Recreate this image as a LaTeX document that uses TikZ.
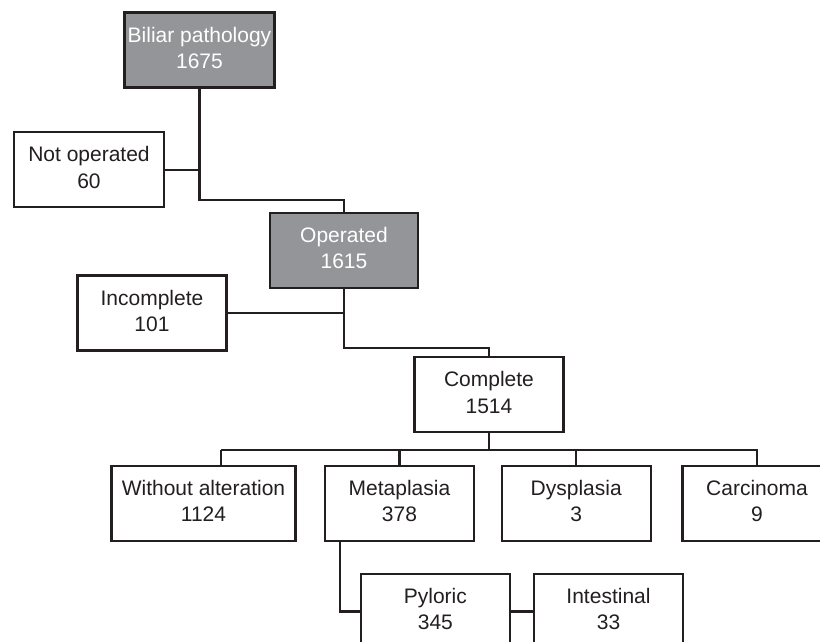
\documentclass[tikz,border=0pt]{standalone}
\usepackage{fontspec}
\setmainfont{Liberation Sans}
\definecolor{boxgray}{HTML}{939598}
\definecolor{linec}{HTML}{231F20}
\newcommand{\twol}[2]{\raisebox{2.5pt}{\begin{tabular}{@{}c@{}}#1\\#2\end{tabular}}}
\begin{document}
\begin{tikzpicture}[x=1pt,y=-1pt,
  box/.style={draw=linec, line width=2.2pt, fill=white, rectangle, minimum width=149pt, minimum height=75pt,
    inner sep=0pt, text=linec, font=\fontsize{21}{26.3}\selectfont},
  graybox/.style={box, fill=boxgray, text=white},
  conn/.style={draw=linec, line width=2.2pt}]
\useasboundingbox (0,0) rectangle (820,642);
\clip (0,0) rectangle (820,642);
\node[graybox, minimum width=150pt] (bil) at (199.5,50) {\twol{Biliar pathology}{1675}};
\node[box, minimum width=150pt] (notop) at (89,169.8) {\twol{Not operated}{60}};
\node[graybox, minimum width=148pt, minimum height=74.5pt] (oper) at (344,250.5) {\twol{Operated}{1615}};
\node[box] (incomp) at (152,313) {\twol{Incomplete}{101}};
\node[box] (comp) at (489,394.8) {\twol{Complete}{1514}};
\node[box, minimum width=184pt] (wo) at (203.5,503.2) {\twol{Without alteration}{1124}};
\node[box] (meta) at (399.5,503.2) {\twol{Metaplasia}{378}};
\node[box] (dys) at (576.2,503.2) {\twol{Dysplasia}{3}};
\node[box] (carc) at (757,503.2) {\twol{Carcinoma}{9}};
\node[box] (pyl) at (435.4,611.5) {\twol{Pyloric}{345}};
\node[box] (int) at (608.5,611.5) {\twol{Intestinal}{33}};
\coordinate (j1) at (199.5,200);
\coordinate (j2) at (344,348.3);
\coordinate (bus) at (489,450);
\coordinate (wod) at (221,450);
\coordinate (mtd) at (340,540.7);
\draw[conn] (bil.south) -- (j1) -| (oper.north);
\draw[conn] (notop.east) -- (notop.east -| j1);
\draw[conn] (oper.south) -- (j2) -| (comp.north);
\draw[conn] (incomp.east) -- (incomp.east -| oper.south);
\draw[conn] (comp.south) -- (bus);
\draw[conn] (wod) -- (carc.north |- bus) -- (carc.north);
\draw[conn] (wod) -- (wod |- wo.north);
\draw[conn] (meta.north |- bus) -- (meta.north);
\draw[conn] (dys.north |- bus) -- (dys.north);
\draw[conn] (mtd) |- (pyl.west);
\draw[conn] (pyl.east) -- (int.west);
\end{tikzpicture}
\end{document}
